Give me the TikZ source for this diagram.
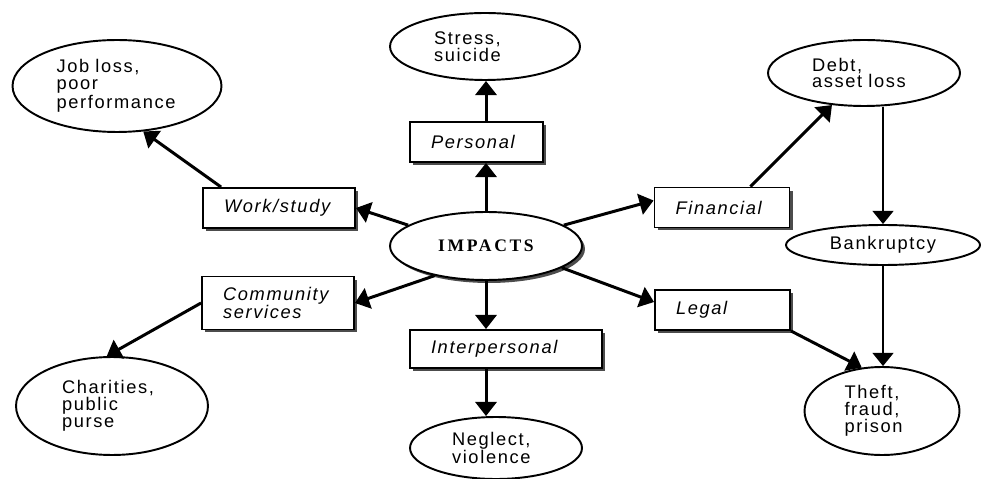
\documentclass[tikz,border=0pt]{standalone}
\usepackage{fontspec}
\setmainfont{Liberation Sans}[LetterSpace=9]
\newfontfamily\impactfont{Liberation Serif}[LetterSpace=15]
\usetikzlibrary{arrows.meta,shapes.geometric,shadows}

\tikzset{
  outcome/.style={ellipse,draw,line width=1.1pt,inner sep=0pt,align=left,
    font=\fontsize{10.4}{9.6}\selectfont},
  area/.style={rectangle,draw,line width=1.1pt,fill=white,inner xsep=0.42cm,
    inner ysep=0pt,align=left,font=\fontsize{10.4}{9.6}\selectfont\itshape,
    drop shadow={shadow xshift=0.06cm,shadow yshift=-0.06cm,fill=black!70,opacity=1}},
  link/.style={-{Triangle[length=8pt,width=12pt]},line width=1.7pt},
  thinlink/.style={-{Triangle[length=7.5pt,width=12pt]},line width=0.7pt},
}

\begin{document}
\begin{tikzpicture}[x=0.02cm,y=-0.02cm]
    \useasboundingbox (0,0) rectangle (989,479);

    % Centre
    \node[ellipse,draw,line width=1.1pt,fill=white,minimum width=3.84cm,minimum height=1.36cm,
      font=\fontsize{10}{10}\impactfont\bfseries,
      drop shadow={shadow xshift=0.06cm,shadow yshift=-0.06cm,fill=black!70,opacity=1}]
      (impacts) at (486,246) {IMPACTS};

    % Areas
    \node[area,text width=1.82cm,minimum height=0.8cm] (personal) at (476.5,142) {Personal};
    \node[area,text width=2.2cm,minimum height=0.8cm] (work) at (279,208) {Work/study};
    \node[area,text width=1.86cm,minimum height=0.8cm] (financial) at (722,207.5) {Financial};
    \node[area,text width=1.86cm,minimum height=0.8cm] (legal) at (722.5,310) {Legal};
    \node[area,text width=2.2cm,minimum height=1.06cm] (community) at (278,303) {Community\\services};
    \node[area,text width=3.0cm,minimum height=0.76cm] (inter) at (506,349) {Interpersonal};

    % Outcomes
    \node[outcome,minimum width=4.18cm,minimum height=1.84cm,text width=2.42cm] (jobloss) at (117,86) {Job loss,\\poor\\performance};
    \node[outcome,minimum width=3.8cm,minimum height=1.34cm,text width=2.04cm] (stress) at (485,46.5) {Stress,\\suicide};
    \node[outcome,minimum width=3.84cm,minimum height=1.32cm,text width=2.08cm] (debt) at (864,73) {Debt,\\asset loss};
    \node[outcome,align=center,minimum width=3.88cm,minimum height=0.8cm] (bankrupt) at (883,245) {Bankruptcy};
    \node[outcome,minimum width=3.84cm,minimum height=1.96cm,text width=2.0cm] (charities) at (112,406) {Charities,\\public\\purse};
    \node[outcome,minimum width=3.1cm,minimum height=1.76cm,text width=1.5cm] (theft) at (882,411) {Theft,\\fraud,\\prison};
    \node[outcome,minimum width=3.44cm,minimum height=1.24cm,text width=1.76cm] (neglect) at (496,448) {Neglect,\\violence};

    % Arrows
    \draw[link] (impacts.north) -- (impacts.north |- personal.south);
    \draw[link] (personal.north -| impacts.north) -- (stress.south -| impacts.north);
    \draw[link] (impacts.165) -- (work.east);
    \draw[link] ([xshift=0.38cm]work.north west) -- (jobloss.-60);
    \draw[link] (impacts.15) -- ([yshift=0.14cm]financial.west);
    \draw[link] ([xshift=-0.8cm]financial.north east) -- (debt.225);
    \draw[thinlink] (debt.south -| bankrupt.north) -- (bankrupt.north);
    \draw[thinlink] (bankrupt.south) -- (theft.north -| bankrupt.south);
    \draw[link] (impacts.-16) -- ([yshift=0.16cm]legal.west);
    \draw[link] (legal.south east) -- (theft.115);
    \draw[link] (impacts.210) -- (community.east);
    \draw[link] (community.west) -- (charities.96);
    \draw[link] (impacts.south) -- (impacts.south |- inter.north);
    \draw[link] (inter.south -| impacts.south) -- (neglect.north -| impacts.south);
\end{tikzpicture}
\end{document}
